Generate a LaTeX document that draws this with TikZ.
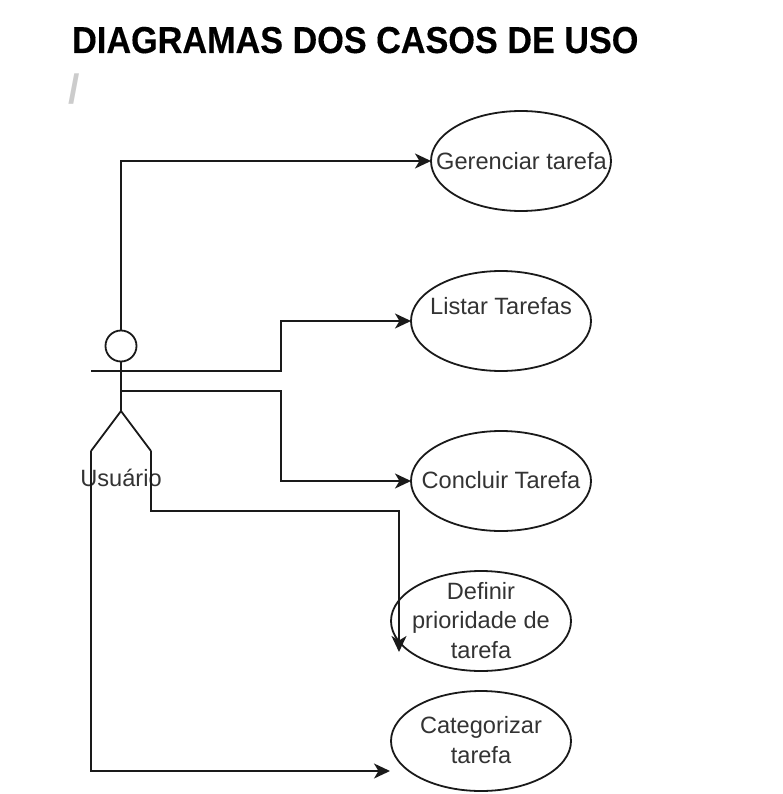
\documentclass[tikz,border=0pt]{standalone}
\usepackage{fontspec}
\setmainfont{Liberation Sans}
\newfontfamily\titlefont{Liberation Sans}[FakeStretch=0.912,FakeBold=0.3]
\usetikzlibrary{shapes.geometric,arrows.meta}
\definecolor{ink}{HTML}{1A1A1A}
\definecolor{labelgrey}{HTML}{333333}
\definecolor{slashgrey}{HTML}{CCCCCC}
\tikzset{
  line/.style={draw=ink,line width=1.8pt},
  conn/.style={line,-{Stealth[length=16pt,width=15pt,inset=4.5pt]}},
  labeltext/.style={text=labelgrey,font=\fontsize{23.6}{29.7}\selectfont,align=center,inner sep=0pt},
  usecase/.style={ellipse,line,minimum width=180pt,minimum height=100pt,inner sep=0pt,outer sep=0pt},
  stick/.style={line},
}
\begin{document}
\begin{tikzpicture}[x=1pt,y=-1pt]
\useasboundingbox (0,0) rectangle (782,794);
\node[anchor=base west,inner sep=0pt,font=\fontsize{37.5}{40}\titlefont\bfseries,text=black] (title) at (72,53) {DIAGRAMAS DOS CASOS DE USO};
\node[anchor=base west,inner sep=0pt,font=\fontsize{41}{44}\selectfont\bfseries,text=slashgrey] (slash) at (68,104) {/};

% actor
\node[circle,line,minimum size=31pt,inner sep=0pt,outer sep=0pt] (head) at (121,346) {};
\coordinate (armL) at (91,371);
\coordinate (armR) at (151,371);
\coordinate (waist) at (121,391);
\coordinate (hip) at (121,411);
\coordinate (legL) at (91,451);
\coordinate (legR) at (151,451);
\draw[stick] (head.south) -- (hip);
\draw[stick] (armL) -- (armR);
\draw[stick,line join=round] (legL) -- (hip) -- (legR);

% use cases
\node[usecase,label={[labeltext,xshift=0.5pt]center:Gerenciar tarefa}] (gerenciar) at (521,161) {};
\node[usecase,label={[labeltext,yshift=15pt]center:Listar Tarefas}] (listar) at (501,321) {};
\node[usecase,label={[labeltext,yshift=1pt]center:Concluir Tarefa}] (concluir) at (501,481) {};
\node[usecase,label={[labeltext,yshift=0.5pt]center:Definir\\prioridade de\\tarefa}] (definir) at (481,621) {};
\node[usecase,label={[labeltext,yshift=1pt]center:Categorizar\\tarefa}] (categorizar) at (481,741) {};
\coordinate (definirEnd) at (399,652);
\coordinate (categorizarEnd) at (390,771);

\node[labeltext] (usuario) at (121,478) {Usuário};

% connectors
\draw[conn] (head.north) |- (gerenciar.west);
\draw[conn] (armR) -- (281,371) |- (listar.west);
\draw[conn] (waist) -- (281,391) |- (concluir.west);
\draw[conn] (legR) |- (399,511) -- (definirEnd);
\draw[conn] (legL) |- (categorizarEnd);
\end{tikzpicture}
\end{document}
